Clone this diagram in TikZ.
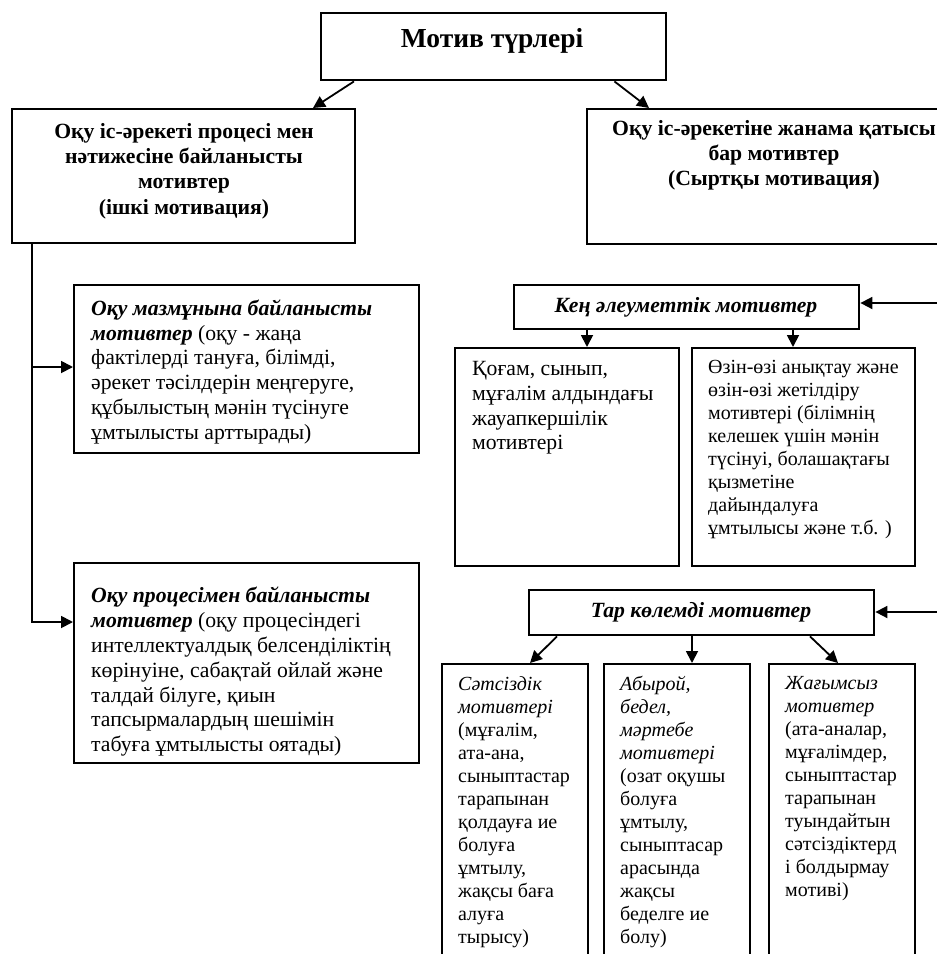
\documentclass[tikz,border=0pt]{standalone}
\usepackage{fontspec}
\setmainfont{Liberation Serif}
\usetikzlibrary{arrows.meta,calc}
\begin{document}
\begin{tikzpicture}[x=1pt,y=-1pt,
  box/.style={draw, line width=2.4pt, inner sep=0pt, anchor=north west, rectangle},
  arr/.style={line width=1.8pt, -{Triangle[length=12pt,width=12pt]}},
  body/.style={anchor=north west, inner sep=0pt, align=left, font=\fontsize{21.7}{24.8}\selectfont},
  small/.style={anchor=north west, inner sep=0pt, align=left, font=\fontsize{20}{23}\selectfont},
  head/.style={inner sep=0pt, align=center, font=\fontsize{21.7}{25.3}\selectfont\bfseries},
  headit/.style={inner sep=0pt, align=center, font=\fontsize{21.7}{25}\selectfont\bfseries\itshape},
]
\useasboundingbox (0,0) rectangle (937,954);
\clip (0,0) rectangle (937,954);
\fill[white] (0,0) rectangle (937,954);

% boxes
\node[box, minimum width=345pt, minimum height=67pt] (top) at (320,12) {};
\node[box, minimum width=343pt, minimum height=134pt] (lb) at (11,108) {};
\node[box, minimum width=380pt, minimum height=135pt] (rb) at (586,108) {};
\node[box, minimum width=345pt, minimum height=168pt] (b2) at (73,284) {};
\node[box, minimum width=345pt, minimum height=200pt] (b3) at (73,562) {};
\node[box, minimum width=345pt, minimum height=44pt] (ken) at (513,284) {};
\node[box, minimum width=224pt, minimum height=218pt] (kog) at (454,347) {};
\node[box, minimum width=223pt, minimum height=218pt] (ozin) at (691,347) {};
\node[box, minimum width=345pt, minimum height=45pt] (tar) at (528,589) {};
\node[box, minimum width=146pt, minimum height=320pt] (bA) at (441,663) {};
\node[box, minimum width=146pt, minimum height=320pt] (bB) at (603,663) {};
\node[box, minimum width=146pt, minimum height=320pt] (bC) at (768,663) {};

% texts
\node[anchor=base, inner sep=0pt, font=\fontsize{27.5}{30}\selectfont\bfseries] (ttop) at (492,47) {Мотив түрлері};
\node[head] (tlb) at (184,171) {Оқу іс-әрекеті процесі мен\\ нәтижесіне байланысты\\ мотивтер\\ (ішкі мотивация)};
\node[head, anchor=north] (trb) at (774,120) {Оқу іс-әрекетіне жанама қатысы\\ бар мотивтер\\ (Сыртқы мотивация)};
\node[body] (tb2) at (91,299.5) {\textbf{\textit{Оқу мазмұнына байланысты}}\\ \textbf{\textit{мотивтер}} (оқу - жаңа\\ фактілерді тануға, білімді,\\ әрекет тәсілдерін меңгеруге,\\ құбылыстың мәнін түсінуге\\ ұмтылысты арттырады)};
\node[body] (tb3) at (91,587) {\textbf{\textit{Оқу процесімен байланысты}}\\ \textbf{\textit{мотивтер}} (оқу процесіндегі\\ интеллектуалдық белсенділіктің\\ көрінуіне, сабақтай ойлай және\\ талдай білуге, қиын\\ тапсырмалардың шешімін\\ табуға ұмтылысты оятады)};
\node[headit] (tken) at (686,307) {Кең әлеуметтік мотивтер};
\node[headit] (ttar) at (701,612) {Тар көлемді мотивтер};
\node[body] (tkog) at (472,361) {Қоғам, сынып,\\ мұғалім алдындағы\\ жауапкершілік\\ мотивтері};
\node[small] (tozin) at (708,360) {Өзін-өзі анықтау және\\ өзін-өзі жетілдіру\\ мотивтері (білімнің\\ келешек үшін мәнін\\ түсінуі, болашақтағы\\ қызметіне\\ дайындалуға\\ ұмтылысы және т.б. )};
\node[small] (tA) at (458,676) {\textit{Сәтсіздік}\\ \textit{мотивтері}\\ (мұғалім,\\ ата-ана,\\ сыныптастар\\ тарапынан\\ қолдауға ие\\ болуға\\ ұмтылу,\\ жақсы баға\\ алуға\\ тырысу)};
\node[small] (tB) at (620,676) {\textit{Абырой,}\\ \textit{бедел,}\\ \textit{мәртебе}\\ \textit{мотивтері}\\ (озат оқушы\\ болуға\\ ұмтылу,\\ сыныптасар\\ арасында\\ жақсы\\ беделге ие\\ болу)};
\node[small] (tC) at (785,676) {\textit{Жағымсыз}\\ \textit{мотивтер}\\ (ата-аналар,\\ мұғалімдер,\\ сыныптастар\\ тарапынан\\ туындайтын\\ сәтсіздіктерд\\ і болдырмау\\ мотиві)};

% connectors
\draw[arr] ($(top.south west)+(34,0)$) -- ($(lb.north west)+(302,0)$);
\draw[arr] ($(top.south east)+(-53,0)$) -- ($(rb.north west)+(63,0)$);

\coordinate (t0) at ($(lb.south west)+(21,0)$);
\coordinate (j1) at (32,367);
\coordinate (j2) at (32,622);
\draw[arr] (t0) |- (j2 -| b3.west);
\draw[arr] (j1) -- (j1 -| b2.west);

\coordinate (e1) at (950,303);
\coordinate (e2) at (950,612);
\draw[arr] (e1) -- (e1 -| ken.east);
\draw[arr] (e2) -- (e2 -| tar.east);

\coordinate (k1) at (587,0);
\coordinate (k2) at (793,0);
\coordinate (k3) at (692,0);
\draw[arr] (ken.south -| k1) -- (kog.north -| k1);
\draw[arr] (ken.south -| k2) -- (ozin.north -| k2);
\draw[arr] ($(tar.south west)+(29,0)$) -- ($(bA.north west)+(89,0)$);
\draw[arr] (tar.south -| k3) -- (bB.north -| k3);
\draw[arr] ($(tar.south west)+(282,0)$) -- ($(bC.north west)+(70,0)$);
\end{tikzpicture}
\end{document}
